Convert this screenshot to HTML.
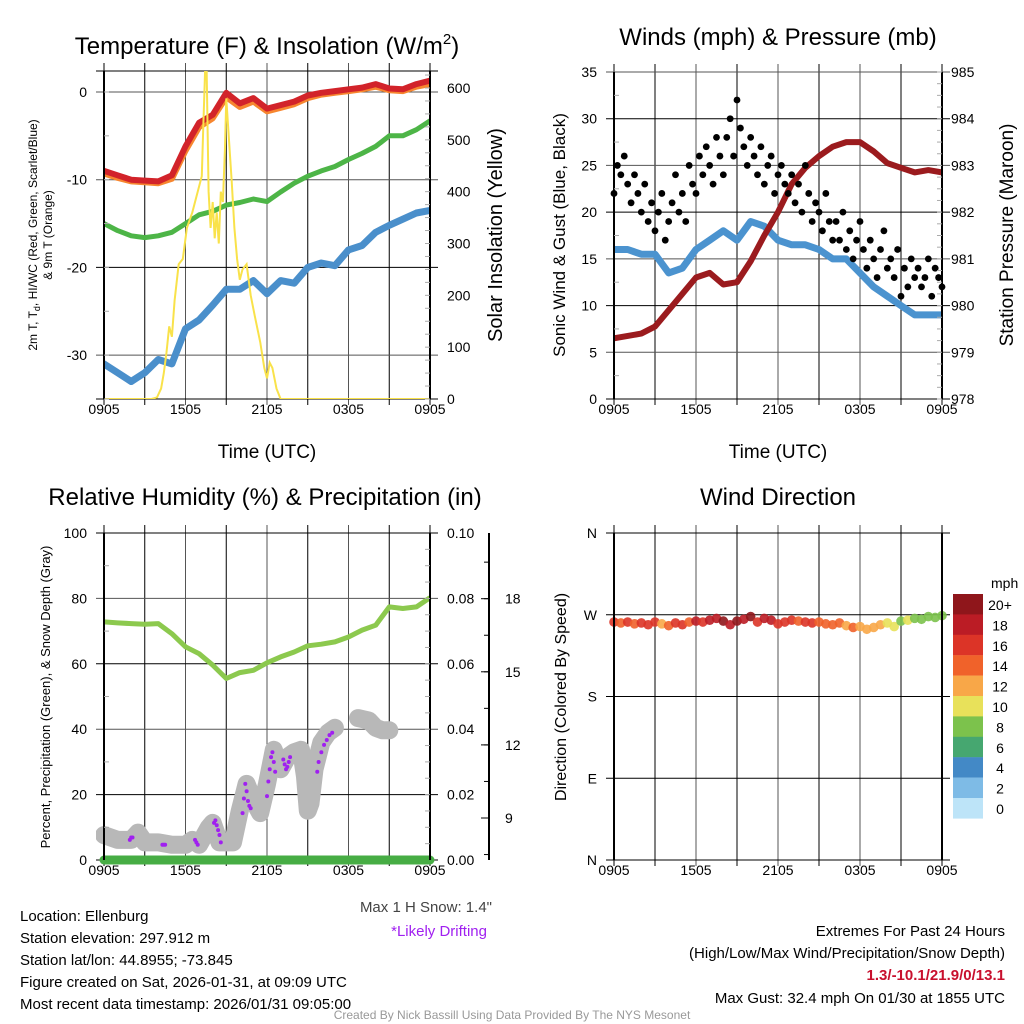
<!DOCTYPE html>
<html><head><meta charset="utf-8"><style>
html,body{margin:0;padding:0;background:#fff}
svg{display:block;font-family:"Liberation Sans",sans-serif}
</style></head><body>
<svg id="s" width="1024" height="1024" viewBox="0 0 1024 1024" xmlns="http://www.w3.org/2000/svg">
<defs>
<clipPath id="c1"><rect x="104" y="71" width="326" height="328"/></clipPath>
<clipPath id="c2"><rect x="614" y="72" width="328" height="327"/></clipPath>
<clipPath id="c3"><rect x="96" y="525" width="342" height="343"/></clipPath>
</defs>
<g id="grids"></g>
<g id="marks"></g>
<g id="axes"></g>
<text x="267" y="54" font-size="24" text-anchor="middle">Temperature (F) &amp; Insolation (W/m<tspan dy="-10" font-size="15">2</tspan><tspan dy="10">)</tspan></text>
<text x="778" y="45" font-size="24" text-anchor="middle">Winds (mph) &amp; Pressure (mb)</text>
<text x="265" y="505" font-size="24" text-anchor="middle">Relative Humidity (%) &amp; Precipitation (in)</text>
<text x="778" y="505" font-size="24" text-anchor="middle">Wind Direction</text>
<text x="267" y="458" font-size="19" text-anchor="middle">Time (UTC)</text>
<text x="778" y="458" font-size="19" text-anchor="middle">Time (UTC)</text>
<text transform="translate(37,235) rotate(-90)" font-size="12" text-anchor="middle">2m T, T<tspan font-size="9" dy="3">d</tspan><tspan dy="-3">, HI/WC (Red, Green, Scarlet/Blue)</tspan></text>
<text transform="translate(52,235) rotate(-90)" font-size="12" text-anchor="middle">&amp; 9m T (Orange)</text>
<text transform="translate(502,235) rotate(-90)" font-size="20" text-anchor="middle">Solar Insolation (Yellow)</text>
<text transform="translate(565,235) rotate(-90)" font-size="17" text-anchor="middle">Sonic Wind &amp; Gust (Blue, Black)</text>
<text transform="translate(1013,235) rotate(-90)" font-size="19" text-anchor="middle">Station Pressure (Maroon)</text>
<text transform="translate(50,697) rotate(-90)" font-size="13" text-anchor="middle">Percent, Precipitation (Green), &amp; Snow Depth (Gray)</text>
<text transform="translate(566,697) rotate(-90)" font-size="16" text-anchor="middle">Direction (Colored By Speed)</text>
<text x="991" y="588" font-size="14">mph</text>
<g id="legend"></g>
<g font-size="15">
<text x="20" y="921">Location: Ellenburg</text>
<text x="20" y="943">Station elevation: 297.912 m</text>
<text x="20" y="965">Station lat/lon: 44.8955; -73.845</text>
<text x="20" y="987">Figure created on Sat, 2026-01-31, at 09:09 UTC</text>
<text x="20" y="1009">Most recent data timestamp: 2026/01/31 09:05:00</text>
</g>
<text x="492" y="912" font-size="15" fill="#444" text-anchor="end">Max 1 H Snow: 1.4"</text>
<text x="487" y="936" font-size="15" fill="#a020f0" text-anchor="end">*Likely Drifting</text>
<g font-size="15" text-anchor="end">
<text x="1005" y="936">Extremes For Past 24 Hours</text>
<text x="1005" y="958">(High/Low/Max Wind/Precipitation/Snow Depth)</text>
<text x="1005" y="980" fill="#c8102e" font-weight="bold">1.3/-10.1/21.9/0/13.1</text>
<text x="1005" y="1003">Max Gust: 32.4 mph On 01/30 at 1855 UTC</text>
</g>
<text x="512" y="1019" font-size="12" fill="#999" text-anchor="middle">Created By Nick Bassill Using Data Provided By The NYS Mesonet</text>
</svg>
<script>
const hours=[0,1,2,3,4,5,6,7,8,9,10,11,12,13,14,15,16,17,18,19,20,21,22,23,24];
const xTickLabels=["0905","1505","2105","0305","0905"];
const tempT=[-9,-9.5,-10,-10.1,-10.2,-9.5,-6.2,-3.5,-2.6,-0.1,-1.3,-0.7,-1.9,-1.5,-1.1,-0.4,-0.1,0.1,0.3,0.5,0.9,0.4,0.3,0.9,1.3];
const temp9m=[-9.3,-9.8,-10.2,-10.3,-10.4,-9.9,-6.7,-4.0,-3.0,-0.6,-1.7,-1.1,-2.2,-1.8,-1.4,-0.7,-0.3,-0.1,0.1,0.3,0.6,0.2,0.1,0.6,0.9];
const tempGreen=[-15,-15.8,-16.4,-16.6,-16.4,-16,-15,-14,-13.6,-12.9,-12.6,-12.2,-12.5,-11.4,-10.4,-9.6,-9.0,-8.5,-7.7,-7.0,-6.2,-5.0,-5.0,-4.3,-3.3];
const dewBlue=[-31,-32,-33,-32,-30.5,-31,-27,-26,-24.3,-22.5,-22.5,-21.5,-23,-21.5,-21.8,-20,-19.5,-19.8,-18,-17.5,-16,-15.2,-14.5,-13.8,-13.5];
const solarTimes=[0,3.5,3.9,4.2,4.4,4.6,4.8,5.0,5.2,5.5,5.8,6.1,6.5,6.9,7.2,7.3,7.45,7.55,7.7,7.85,8.0,8.15,8.3,8.45,8.6,8.75,8.9,9.0,9.15,9.4,9.6,9.8,10.0,10.2,10.5,10.8,11.1,11.5,11.8,12.0,12.2,12.4,12.7,13.0,24];
const solarVals=[0,0,3,20,50,90,140,120,190,260,270,330,360,400,430,520,640,640,400,330,380,310,360,300,400,380,480,580,520,420,330,270,230,250,260,200,160,110,60,40,70,60,20,0,0];
const windSpeed=[16,16,15.5,15.5,13.5,14,16,17,18,17,19,18.5,17,16.5,16.5,16,15,15,13.5,12,11,10,9,9,9];
const gusts=[22,25,24,26,23,21,24,22,20,23,19,21,18,20,22,17,19,21,24,20,22,19,25,23,22,26,24,27,25,23,28,26,24,28,30,26,32,29,27,25,28,26,24,27,23,25,26,22,24,25,23,22,24,21,23,20,25,22,19,21,20,18,22,19,17,19,17,20,16,18,15,17,19,16,14,17,15,13,16,18,14,15,13,16,11,14,12,15,13,14,12,13,15,11,14,13,12];
const pressure=[979.3,979.35,979.4,979.55,979.9,980.25,980.6,980.7,980.45,980.5,980.95,981.5,982.0,982.6,982.95,983.2,983.4,983.5,983.5,983.3,983.05,982.95,982.85,982.9,982.85];
const rh=[72.8,72.5,72.3,72.1,72.3,69.2,65.2,63.1,59.6,55.5,57.3,58,60.3,62.1,63.6,65.5,66,66.7,68.2,70.3,71.8,77.4,76.9,77.4,80.2];
const precip=[0,0,0,0,0,0,0,0,0,0,0,0,0,0,0,0,0,0,0,0,0,0,0,0,0];
const snowTimes=[0,1,2,2.5,3,4,5,6,6.5,7,7.7,8,8.5,9,9.5,10,10.5,11,11.5,12,12.5,13,13.5,14,14.5,14.8,15,15.2,15.5,16,16.5,17,17.2,18.7,19.5,20,20.5,21];
const snowVals=[8.3,8.1,8.1,8.4,8.0,8.0,7.9,7.9,8.1,7.9,8.6,8.8,8.0,8.0,8.0,9.3,10.4,9.7,9.2,10.4,11.8,11.0,11.5,11.7,11.8,10.7,9.3,9.6,11.0,12.1,12.5,12.7,null,13.1,13.0,12.7,12.6,12.6];
const driftTimes=[1.9,2.0,2.1,4.3,4.4,4.5,6.7,6.8,6.9,8.1,8.2,8.3,8.4,8.5,8.6,10.2,10.3,10.4,10.5,10.6,10.7,10.8,12.0,12.1,12.2,12.3,12.4,12.5,12.6,13.2,13.3,13.4,13.5,13.6,13.7,15.7,15.8,16.0,16.2,16.4,16.6,16.8];
const driftVals=[8.1,8.2,8.2,7.9,7.9,7.9,8.1,8.0,7.9,8.8,8.9,8.7,8.5,8.3,8.0,9.2,9.8,10.4,10.1,9.7,9.5,9.4,9.9,10.5,11.0,11.5,11.7,11.3,10.9,11.4,11.2,11.0,11.1,11.3,11.5,10.9,11.3,11.7,12.0,12.2,12.4,12.5];
const windDir=[262,261,262,260,261,259,262,260,258,261,259,262,263,262,264,266,263,259,263,265,268,262,266,264,260,262,264,263,262,261,262,260,259,261,258,256,257,254,256,259,261,257,263,264,266,265,268,267,269];
const dirSpeed=[16,15,16,14,16,17,16,13,15,16,16,14,18,17,19,18,20,19,21,18,20,17,19,18,17,16,17,15,16,16,14,15,15,14,13,14,12,13,12,13,10,11,9,10,8,9,8,9,8];
const legendLabels=["20+","18","16","14","12","10","8","6","4","2","0"];
const legendColors=["#8f161b","#bb1c25","#dc3427","#f0622a","#f8a748","#e8e15a","#7cc24c","#46a770","#4389c6","#7ebbe6","#bde4f8"];
const tempTicks=[0,-10,-20,-30];
const solarTicks=[0,100,200,300,400,500,600];
const windTicks=[0,5,10,15,20,25,30,35];
const presTicks=[978,979,980,981,982,983,984,985];
const rhTicks=[0,20,40,60,80,100];
const precipTicks=["0.00","0.02","0.04","0.06","0.08","0.10"];
const snowTicks=[9,12,15,18];
const dirTicks=["N","E","S","W","N"];

const NS="http://www.w3.org/2000/svg";
const G=document.getElementById('grids'),M=document.getElementById('marks'),A=document.getElementById('axes');
function el(p,tag,at){const e=document.createElementNS(NS,tag);for(const k in at)e.setAttribute(k,at[k]);p.appendChild(e);return e;}
function lin(d0,d1,r0,r1){return v=>r0+(v-d0)/(d1-d0)*(r1-r0);}
const P1={x0:104,x1:430,y0:71,y1:399},P2={x0:614,x1:942,y0:72,y1:399},P3={x0:104,x1:430,y0:533,y1:860},P4={x0:614,x1:942,y0:533,y1:860};
const x1s=lin(0,24,P1.x0,P1.x1),x2s=lin(0,24,P2.x0,P2.x1);
const yTemp=lin(-35,2.39,399,71),ySolar=lin(0,600,399,88);
const yWind=lin(0,35,399,72),yPres=lin(978,985,399,72);
const yRh=lin(0,100,860,533),yPrec=lin(0,0.1,860,533),ySnow=lin(9,18,818,598.7);
const yDir=lin(0,360,860,533);

function path(xs,ys,tarr,varr){let d='',pen=false;for(let i=0;i<tarr.length;i++){const v=varr[i];if(v===null||v===undefined){pen=false;continue;}d+=(pen?'L':'M')+xs(tarr[i]).toFixed(1)+','+ys(v).toFixed(1);pen=true;}return d;}
function txt(p,x,y,s,anchor,size){const t=el(p,'text',{x:x,y:y,'font-size':size||14,'text-anchor':anchor||'middle'});t.textContent=s;return t;}

function frame(P,xs){
  for(let h=0;h<=24;h+=3){const x=xs(h);const l=el(G,'line',{x1:x,x2:x,y1:P.y0-8,y2:P.y1+6,stroke:(h%6==0&&h>0&&h<24)?'#555':'#000','stroke-width':1});
    }
  el(A,'line',{x1:P.x0,x2:P.x0,y1:P.y0,y2:P.y1,stroke:'#000','stroke-width':2});
  el(A,'line',{x1:P.x1,x2:P.x1,y1:P.y0,y2:P.y1,stroke:'#000','stroke-width':2});
  el(G,'line',{x1:P.x0-8,x2:P.x1+8,y1:P.y0,y2:P.y0,stroke:'#000','stroke-width':1});
  xTickLabels.forEach((s,i)=>{const t=txt(A,xs(i*6),P.y1+15,s,'middle',14);});
}
function hgrid(P,y,col){const l=el(G,'line',{x1:P.x0-8,x2:P.x1+8,y1:y,y2:y,stroke:col||'#000','stroke-width':1});}
function minor(x,y,dir){el(A,'line',{x1:x,x2:x+dir*5,y1:y,y2:y,stroke:'#aaa','stroke-width':1});}

// Panel 1
frame(P1,x1s);
el(G,'line',{x1:P1.x0-8,x2:P1.x1+8,y1:P1.y1,y2:P1.y1,stroke:'#000'});
tempTicks.forEach(v=>{hgrid(P1,yTemp(v),v==-20?'#000':'#555');const t=txt(A,87,yTemp(v)+5,String(v),'end',14);});
for(let v=-35;v<=0;v+=5)minor(P1.x0,yTemp(v),1);
solarTicks.forEach(v=>{const t=txt(A,447,ySolar(v)+5,String(v),'start',14);});
for(let v=0;v<=625;v+=25)minor(P1.x1,ySolar(v),-1);
const g1=el(M,'g',{'clip-path':'url(#c1)'});
[[dewBlue,'#4a8fcb',7,'dewpoint-line'],[tempGreen,'#4db547',5,'green-temp-line'],[temp9m,'#f7862f',6,'9m-temp-line'],[tempT,'#d2232a',6,'2m-temp-line']].forEach(s=>{
  const p=el(g1,'path',{d:path(x1s,yTemp,hours,s[0]),fill:'none',stroke:s[1],'stroke-width':s[2],'stroke-linejoin':'round','stroke-linecap':'round'});
  });
const ps=el(g1,'path',{d:path(x1s,ySolar,solarTimes,solarVals),fill:'none',stroke:'#f9e24a','stroke-width':2});


// Panel 2
frame(P2,x2s);
windTicks.forEach(v=>{hgrid(P2,yWind(v),(v%10==5)?'#555':'#000');const t=txt(A,597,yWind(v)+5,String(v),'end',14);});
for(let v=2.5;v<35;v+=5)minor(P2.x0,yWind(v),1);
presTicks.forEach(v=>{const t=txt(A,951,yPres(v)+5,String(v),'start',14);});
for(let v=978;v<=985;v+=0.25)minor(P2.x1,yPres(v),-1);
const g2=el(M,'g',{'clip-path':'url(#c2)'});
const pw=el(g2,'path',{d:path(x2s,yWind,hours,windSpeed),fill:'none',stroke:'#4b93cf','stroke-width':7,'stroke-linejoin':'round'});

const pp=el(g2,'path',{d:path(x2s,yPres,hours,pressure),fill:'none',stroke:'#9b1b1e','stroke-width':6,'stroke-linejoin':'round','stroke-linecap':'round'});

gusts.forEach((v,i)=>{const c=el(M,'circle',{cx:x2s(i*0.25),cy:yWind(v),r:3.4,fill:'#000'});
  });

// Panel 3
frame(P3,x1s);
rhTicks.forEach((v,i)=>{hgrid(P3,yRh(v),(v==80||v==40)?'#555':'#000');
  const t=txt(A,87,yRh(v)+5,String(v),'end',14);
  const t2=txt(A,447,yRh(v)+5,precipTicks[i],'start',14);});
for(let v=10;v<100;v+=20)minor(P3.x0,yRh(v),1);
for(let v=5;v<100;v+=5)minor(P3.x1,yRh(v),-1);
el(A,'line',{x1:489,x2:489,y1:533,y2:860,stroke:'#000','stroke-width':2});
for(let v=7.5;v<=20.5;v+=1.5)el(A,'line',{x1:489,x2:484,y1:ySnow(v),y2:ySnow(v),stroke:'#000','stroke-width':1});
snowTicks.forEach(v=>{el(A,'line',{x1:489,x2:481,y1:ySnow(v),y2:ySnow(v),stroke:'#000'});const t=txt(A,505,ySnow(v)+5,String(v),'start',14);});
const g3=el(M,'g',{'clip-path':'url(#c3)'});
const sn=el(g3,'path',{d:path(x1s,ySnow,snowTimes,snowVals),fill:'none',stroke:'#b8b8b8','stroke-width':18,'stroke-linejoin':'round','stroke-linecap':'round'});

const pr=el(g3,'path',{d:path(x1s,yPrec,hours,precip),fill:'none',stroke:'#47ad44','stroke-width':9,'stroke-linecap':'round'});

const rl=el(g3,'path',{d:path(x1s,yRh,hours,rh),fill:'none',stroke:'#8cc94e','stroke-width':5,'stroke-linejoin':'round'});

driftTimes.forEach((t,i)=>{const c=el(M,'circle',{cx:x1s(t),cy:ySnow(driftVals[i]),r:2,fill:'#a020f0'});
  });

// Panel 4
frame(P4,x2s);
dirTicks.forEach((s,i)=>{hgrid(P4,yDir(i*90),'#000');const t=txt(A,597,yDir(i*90)+5,s,'end',14);});
function colorFor(s){let b=Math.min(10,Math.floor(s/2));return legendColors[10-b];}
windDir.forEach((d,i)=>{const c=el(M,'circle',{cx:x2s(i*0.5),cy:yDir(d),r:4.8,fill:colorFor(dirSpeed[i]),'fill-opacity':0.9});
  });
const L=document.getElementById('legend');
legendLabels.forEach((s,i)=>{const r=el(L,'rect',{x:953,y:594+i*20.4,width:30,height:20.6,fill:legendColors[i]});
  
  const t=txt(L,1000,594+i*20.4+16,s,'middle',14);});
</script>
</body></html>
